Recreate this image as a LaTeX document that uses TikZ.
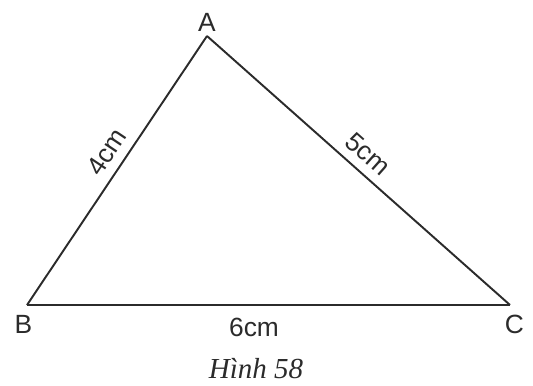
\documentclass[tikz,border=0pt]{standalone}
\usepackage{fontspec}
\setmainfont{Liberation Serif}
\setsansfont{Liberation Sans}
\usetikzlibrary{positioning}
\definecolor{edgegray}{HTML}{2B2B2B}

\begin{document}
\begin{tikzpicture}[x=0.02cm, y=-0.02cm,
  side/.style={draw=edgegray, line width=1.1pt, line join=miter},
  vlabel/.style={font=\sffamily\fontsize{15}{17}\selectfont, text=edgegray,
                 inner sep=2pt},
  lenlabel/.style={font=\sffamily\fontsize{15}{17}\selectfont, text=edgegray,
                   sloped},
  caption/.style={font=\itshape\fontsize{16.5}{18}\selectfont, text=edgegray},
]
\useasboundingbox (0,0) rectangle (533,385);

% Vertices
\coordinate[label={[vlabel, label distance=0.5pt]above:A}] (A) at (207,36);
\coordinate[label={[vlabel, label distance=3.5pt, xshift=-2pt]below:B}] (B) at (27,305);
\coordinate[label={[vlabel, label distance=3.5pt, xshift=2.5pt]below:C}] (C) at (510,305);

% Sides with lengths
\draw[side] (B) -- node[lenlabel, above=1.5pt, pos=0.53] (ab) {4cm} (A);
\draw[side] (A) -- node[lenlabel, above=1.5pt, pos=0.49] (ac) {5cm} (C);
\draw[side] (B) -- node[lenlabel, below=3.5pt, pos=0.47] (bc) {6cm} (C);

% Caption
\node[caption] (cap) at (256,369) {Hình 58};

\end{tikzpicture}
\end{document}
